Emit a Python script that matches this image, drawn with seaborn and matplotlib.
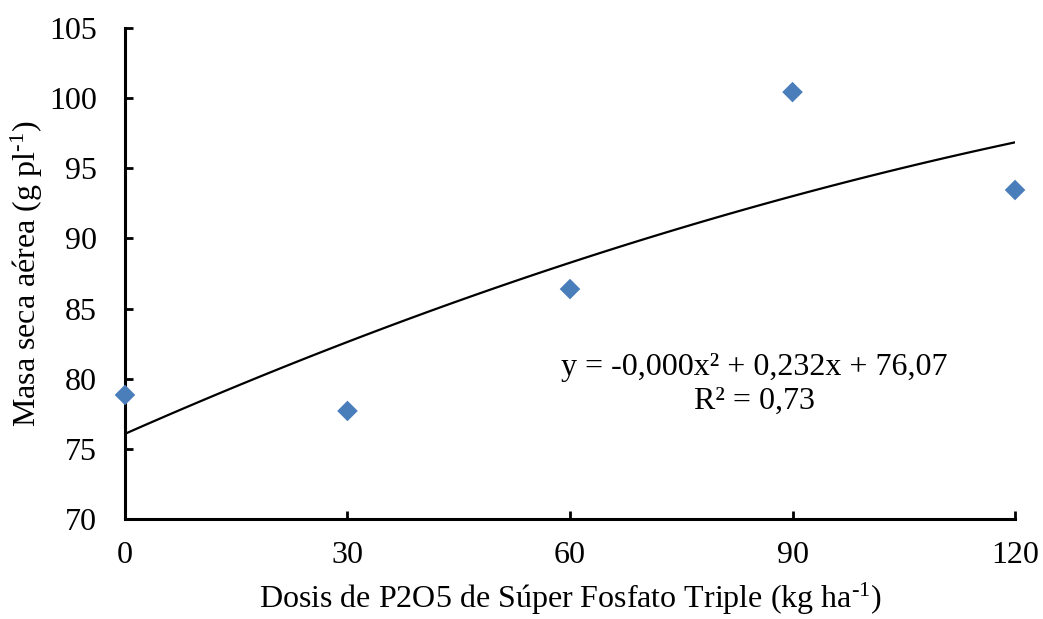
import numpy as np
import pandas as pd
import matplotlib
matplotlib.use("Agg")
import matplotlib.pyplot as plt
import seaborn as sns

# Data
dosis = [0, 30, 60, 90, 120]
masa_seca = [78.84, 77.70, 86.39, 100.43, 93.45]
x_ticks = [0, 30, 60, 90, 120]
y_ticks = [70, 75, 80, 85, 90, 95, 100, 105]
ecuacion = "y = -0,000x\u00b2 + 0,232x + 76,07\nR\u00b2 = 0,73"

sns.set_theme(style="ticks")
plt.rcParams['font.family'] = ['Liberation Serif', 'DejaVu Serif']
plt.rcParams['mathtext.fontset'] = 'custom'
plt.rcParams['mathtext.rm'] = 'Liberation Serif'
plt.rcParams['mathtext.it'] = 'Liberation Serif:italic'

df = pd.DataFrame({"dosis": dosis, "masa": masa_seca})

fig = plt.figure(figsize=(10.43, 6.19), dpi=100)
ax = fig.add_axes([0.1198, 0.1616, 0.9732 - 0.1198, 0.9548 - 0.1616])

sns.regplot(data=df, x="dosis", y="masa", order=2, ci=None, ax=ax,
            marker="D",
            scatter_kws=dict(s=110, color="#4A7EBB", edgecolor="none",
                             alpha=1, zorder=3, clip_on=False),
            line_kws=dict(color="black", lw=1.6, zorder=2))

ax.set_xlim(0, 120)
ax.set_ylim(70, 105)
ax.set_xticks(x_ticks)
ax.set_yticks(y_ticks)
ax.tick_params(axis='both', direction='in', length=6, width=2, labelsize=23,
               colors='black')
ax.tick_params(axis='x', pad=16)
ax.tick_params(axis='y', pad=20)
for sp in ['top', 'right']:
    ax.spines[sp].set_visible(False)
for sp in ['left', 'bottom']:
    ax.spines[sp].set_linewidth(2.2)
    ax.spines[sp].set_color('black')

ax.set_xlabel(r"Dosis de P2O5 de Súper Fosfato Triple (kg ha$^{\text{-1}}$)",
              fontsize=23, color='black')
ax.xaxis.label.set_va('baseline')
ax.xaxis.set_label_coords(0.5, -0.181)
ax.set_ylabel(r"Masa seca aérea (g pl$^{\text{-1}}$)", fontsize=23,
              color='black')
ax.yaxis.label.set_va('center')
ax.yaxis.set_label_coords(-0.110, 0.5)

ax.text(84.9, 79.6, ecuacion, ha='center', va='center', multialignment='center',
        fontsize=23, color='black', linespacing=1.2)

fig.savefig("out.png", dpi=100)
